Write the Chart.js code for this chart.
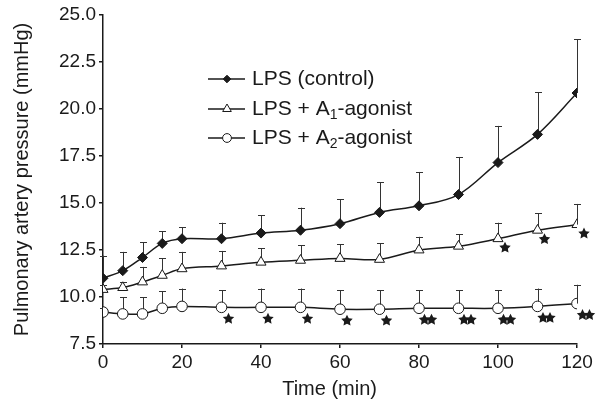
<!DOCTYPE html>
<html><head><meta charset="utf-8">
<script src="https://cdn.jsdelivr.net/npm/chart.js@4/dist/chart.umd.min.js"></script>
<style>html,body{margin:0;padding:0;background:#fff;}#wrap{width:603px;height:405px;position:relative;}</style>
</head><body><div id="wrap"><canvas id="c" width="603" height="405"></canvas></div>
<script>
// ---- data ----
const times = [0, 5, 10, 15, 20, 30, 40, 50, 60, 70, 80, 90, 100, 110, 120];
const controlMean = [11.0, 11.4, 12.1, 12.85, 13.1, 13.1, 13.4, 13.55, 13.9, 14.5, 14.85, 15.45, 17.15, 18.65, 20.85];
const controlErr  = [1.2, 1.0, 0.8, 0.65, 0.6, 0.85, 0.95, 1.2, 1.3, 1.6, 1.8, 2.0, 1.95, 2.25, 2.85];
const a1Mean = [10.4, 10.5, 10.8, 11.15, 11.5, 11.65, 11.85, 11.95, 12.05, 12.0, 12.5, 12.7, 13.1, 13.55, 13.85];
const a1Err  = [0.25, 0.3, 0.8, 0.9, 0.9, 0.8, 0.75, 0.8, 0.75, 0.85, 0.7, 0.65, 0.85, 0.9, 1.1];
const a2Mean = [9.2, 9.1, 9.1, 9.4, 9.5, 9.45, 9.45, 9.45, 9.35, 9.35, 9.4, 9.4, 9.4, 9.5, 9.65];
const a2Err  = [0.2, 0.9, 0.9, 0.9, 0.95, 0.9, 1.0, 1.0, 1.0, 1.0, 0.95, 0.95, 0.95, 0.95, 1.0];
const controlStars = [0, 0, 0, 0, 0, 0, 0, 0, 0, 0, 0, 0, 0, 0, 0];
const a1Stars = [0, 0, 0, 0, 0, 0, 0, 0, 0, 0, 0, 0, 1, 1, 1];
const a2Stars = [0, 0, 0, 0, 0, 1, 1, 1, 1, 1, 2, 2, 2, 2, 2];
const seriesNames = ['LPS (control)', 'LPS + A1-agonist', 'LPS + A2-agonist'];
const legendParts = [
  [['LPS (control)', false]],
  [['LPS + A', false], ['1', true], ['-agonist', false]],
  [['LPS + A', false], ['2', true], ['-agonist', false]]
];
const xTitle = 'Time (min)';
const yTitle = 'Pulmonary artery pressure (mmHg)';
const xMin = 0, xMax = 120, xStep = 20;
const yMin = 7.5, yMax = 25, yStep = 2.5;

// ---- styles ----
const INK = '#1a1a1a';
const FONT = 'Liberation Sans, Arial, Helvetica, sans-serif';
const FS = 19;

function pts(means) { return times.map((t, i) => ({x: t, y: means[i]})); }

function markerPath(ctx, style, x, y, r) {
  ctx.beginPath();
  if (style === 'rectRot') {
    ctx.moveTo(x, y - r); ctx.lineTo(x + r, y); ctx.lineTo(x, y + r); ctx.lineTo(x - r, y); ctx.closePath();
  } else if (style === 'triangle') {
    ctx.moveTo(x, y - r); ctx.lineTo(x + r * 0.866, y + r * 0.5); ctx.lineTo(x - r * 0.866, y + r * 0.5); ctx.closePath();
  } else {
    ctx.arc(x, y, r, 0, Math.PI * 2);
  }
}
function drawStar(ctx, cx, cy, R) {
  const r = R * 0.5;
  ctx.beginPath();
  for (let k = 0; k < 10; k++) {
    const ang = -Math.PI / 2 + k * Math.PI / 5;
    const rad = k % 2 === 0 ? R : r;
    const px = cx + rad * Math.cos(ang), py = cy + rad * Math.sin(ang);
    if (k === 0) ctx.moveTo(px, py); else ctx.lineTo(px, py);
  }
  ctx.closePath();
  ctx.fillStyle = INK; ctx.fill();
}

const extras = {
  id: 'extras',
  beforeDatasetsDraw(chart) {
    const ctx = chart.ctx, ys = chart.scales.y;
    ctx.save();
    ctx.strokeStyle = '#333'; ctx.lineWidth = 1;
    chart.data.datasets.forEach((ds, i) => {
      const meta = chart.getDatasetMeta(i);
      meta.data.forEach((pt, j) => {
        const e = ds.errors[j];
        if (!e) return;
        const yTop = ys.getPixelForValue(ds.data[j].y + e);
        const x = Math.round(pt.x) + 0.5;
        ctx.beginPath();
        ctx.moveTo(x, pt.y); ctx.lineTo(x, yTop);
        ctx.moveTo(x - 3.5, Math.round(yTop) + 0.5); ctx.lineTo(x + 3.5, Math.round(yTop) + 0.5);
        ctx.stroke();
      });
    });
    ctx.restore();
  },
  afterDatasetsDraw(chart) {
    const ctx = chart.ctx;
    ctx.save();
    chart.data.datasets.forEach((ds, i) => {
      const meta = chart.getDatasetMeta(i);
      meta.data.forEach((pt, j) => {
        const n = ds.stars[j];
        if (!n) return;
        const dy = ds.starDy;
        if (n === 1) drawStar(ctx, pt.x + 7, pt.y + dy, 6);
        else { drawStar(ctx, pt.x + 5.5, pt.y + dy, 6); drawStar(ctx, pt.x + 12.5, pt.y + dy, 6); }
      });
    });
    ctx.restore();
  },
  afterDraw(chart) {
    const ctx = chart.ctx;
    ctx.save();
    // x-axis title (slightly left of the plot centre, as in the source)
    ctx.fillStyle = INK; ctx.font = '20px ' + FONT;
    ctx.textAlign = 'center'; ctx.textBaseline = 'middle';
    ctx.fillText(xTitle, chart.chartArea.left + (chart.chartArea.right - chart.chartArea.left) * 0.478, 389);
    // legend
    const x0 = 208, x1 = 245, xm = 227, xt = 252;
    const rows = [79, 109, 138];
    chart.data.datasets.forEach((ds, i) => {
      const y = rows[i];
      ctx.strokeStyle = INK; ctx.lineWidth = 1.3;
      ctx.beginPath(); ctx.moveTo(x0, y); ctx.lineTo(x1, y); ctx.stroke();
      const r = ds.pointStyle === 'rectRot' ? 3.8 : (ds.pointStyle === 'triangle' ? 5 : 4.4);
      markerPath(ctx, ds.pointStyle, xm, y, r);
      ctx.fillStyle = ds.pointBackgroundColor; ctx.fill();
      ctx.lineWidth = 1; ctx.strokeStyle = INK; ctx.stroke();
      let x = xt;
      ctx.fillStyle = INK; ctx.textBaseline = 'middle'; ctx.textAlign = 'left';
      legendParts[i].forEach(([txt, sub]) => {
        ctx.font = (sub ? 14 : 21) + 'px ' + FONT;
        ctx.fillText(txt, x, sub ? y + 6 : y);
        x += ctx.measureText(txt).width;
      });
    });
    ctx.restore();
  }
};

const mk = (name, means, errs, stars, style, fill, r, dy) => ({
  label: name, data: pts(means), errors: errs, stars: stars, starDy: dy,
  borderColor: INK, borderWidth: 1.5, tension: 0.35,
  pointStyle: style, pointRadius: r, pointHoverRadius: r,
  pointBackgroundColor: fill, pointBorderColor: INK, pointBorderWidth: 1
});

new Chart(document.getElementById('c'), {
  type: 'line',
  data: {
    datasets: [
      mk(seriesNames[0], controlMean, controlErr, controlStars, 'rectRot', INK, 5, 0),
      mk(seriesNames[1], a1Mean, a1Err, a1Stars, 'triangle', '#fff', 5.8, 9),
      mk(seriesNames[2], a2Mean, a2Err, a2Stars, 'circle', '#fff', 5.3, 11.5)
    ]
  },
  options: {
    responsive: false, animation: false, devicePixelRatio: 1,
    layout: {padding: {left: 0, right: 26, top: 15, bottom: 0}},
    plugins: {legend: {display: false}, tooltip: {enabled: false}},
    scales: {
      x: {
        type: 'linear', min: xMin, max: xMax,
        afterFit(s) { s.height = 61; },
        ticks: {stepSize: xStep, color: INK, font: {family: FONT, size: FS}, padding: 3, maxRotation: 0},
        grid: {display: true, drawOnChartArea: false, drawTicks: true, tickLength: 4, color: INK, lineWidth: 1.5},
        border: {display: true, color: INK, width: 1.5},
        title: {display: false, text: xTitle}
      },
      y: {
        type: 'linear', min: yMin, max: yMax,
        afterFit(s) { s.width = 103; },
        ticks: {stepSize: yStep, color: INK, font: {family: FONT, size: FS}, padding: 3, callback: v => Number(v).toFixed(1)},
        grid: {display: true, drawOnChartArea: false, drawTicks: true, tickLength: 4, color: INK, lineWidth: 1.5},
        border: {display: true, color: INK, width: 1.5},
        title: {display: true, text: yTitle, color: INK, font: {family: FONT, size: 20}, padding: {top: 10, bottom: 0}}
      }
    }
  },
  plugins: [extras]
});
</script></body></html>
